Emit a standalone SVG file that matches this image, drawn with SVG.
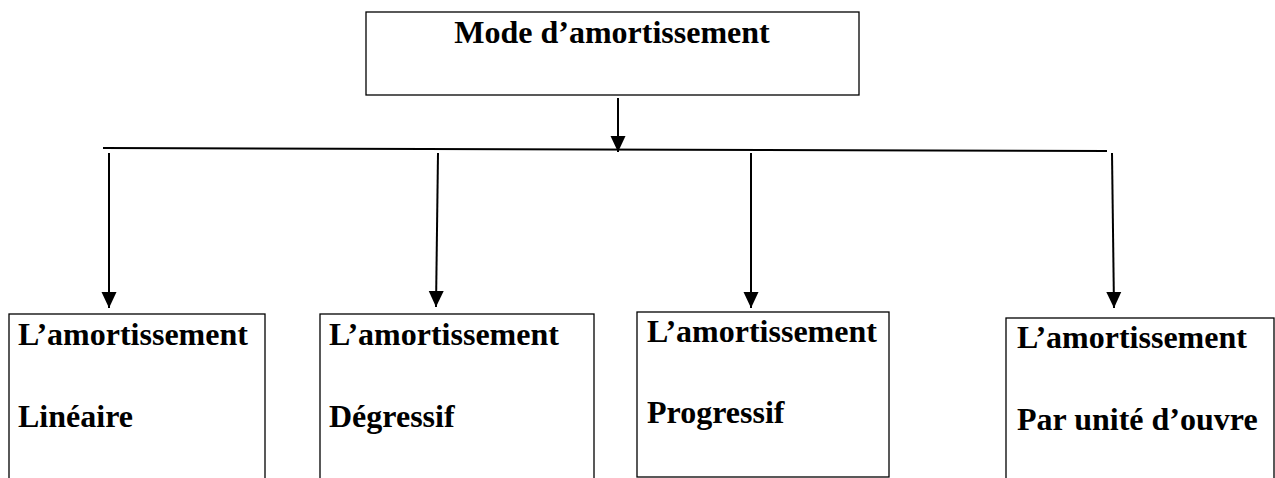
<svg xmlns="http://www.w3.org/2000/svg" width="1275" height="478" viewBox="0 0 1275 478">
<style>
.box{fill:#fff;stroke:#000;stroke-width:1.3}
.t{font-family:"Liberation Serif","Times New Roman",serif;font-weight:bold;font-size:32px;fill:#000}
.c{stroke:#000;stroke-width:2;fill:none}
</style>
<defs>
<marker id="ah" markerUnits="userSpaceOnUse" markerWidth="18" markerHeight="18" viewBox="0 0 18 18" refX="16" refY="9" orient="auto">
<polygon points="0,1.5 16,9 0,16.5" fill="#000"/>
</marker>
</defs>
<rect width="1275" height="478" fill="#fff"/>
<g id="connectors">
<line class="c" x1="618" y1="98" x2="618" y2="152" marker-end="url(#ah)"/>
<line class="c" x1="103" y1="148" x2="1107" y2="151"/>
<line class="c" x1="109" y1="153" x2="109" y2="308" marker-end="url(#ah)"/>
<line class="c" x1="438" y1="153" x2="436" y2="307" marker-end="url(#ah)"/>
<line class="c" x1="751" y1="153" x2="751" y2="308" marker-end="url(#ah)"/>
<line class="c" x1="1112" y1="153" x2="1114" y2="308" marker-end="url(#ah)"/>
</g>
<g id="mode">
<rect class="box" x="366" y="12" width="493" height="83"/>
<text class="t" x="612" y="43" text-anchor="middle">Mode d’amortissement</text>
</g>
<g id="lineaire">
<rect class="box" x="9" y="314" width="256" height="180"/>
<text class="t" x="18" y="345">L’amortissement</text>
<text class="t" x="18" y="427">Linéaire</text>
</g>
<g id="degressif">
<rect class="box" x="320" y="314" width="274" height="180"/>
<text class="t" x="329" y="345">L’amortissement</text>
<text class="t" x="329" y="427">Dégressif</text>
</g>
<g id="progressif">
<rect class="box" x="637" y="312" width="252" height="165"/>
<text class="t" x="647" y="342">L’amortissement</text>
<text class="t" x="647" y="423">Progressif</text>
</g>
<g id="unite">
<rect class="box" x="1006" y="318" width="268" height="180"/>
<text class="t" x="1017" y="348">L’amortissement</text>
<text class="t" x="1017" y="430">Par unité d’ouvre</text>
</g>
</svg>
